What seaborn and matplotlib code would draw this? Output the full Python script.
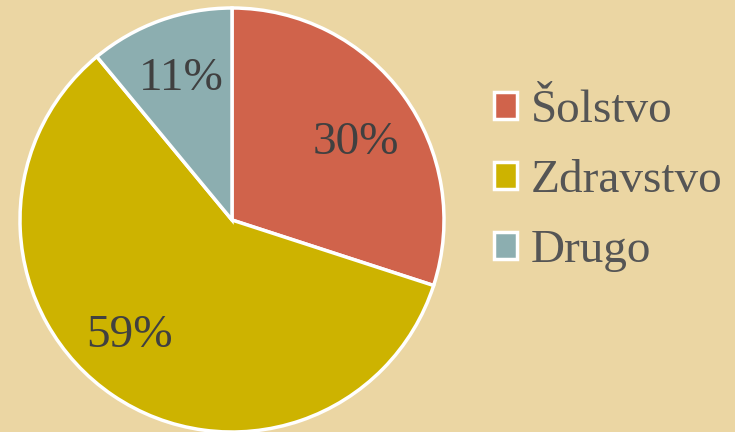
import numpy as np
import pandas as pd
import matplotlib
matplotlib.use("Agg")
import matplotlib.pyplot as plt
import seaborn as sns
from matplotlib.patches import Patch

# data
categories = ["Šolstvo", "Zdravstvo", "Drugo"]
shares = [30, 59, 11]
colors = ["#D0634B", "#CDB300", "#8CAEB0"]
# small nudges of the % labels (best-fit placement in the original)
label_nudge = [(0.01, -0.055), (-0.085, 0.04), (0.0, 0.0)]

sns.set_style("white")
plt.rcParams["font.family"] = ["Liberation Serif", "DejaVu Serif"]

bg = "#EBD6A3"
fig = plt.figure(figsize=(7.35, 4.32), dpi=100, facecolor=bg)

# pie centred at (232, 220) px, radius ~212 px
ax = fig.add_axes([20 / 735, 0 / 432, 424 / 735, 424 / 432])
ax.set_facecolor("none")

wedges, texts, autotexts = ax.pie(
    shares,
    colors=colors,
    startangle=90,
    counterclock=False,
    autopct=lambda p: f"{round(p):d}%",
    pctdistance=0.71,
    wedgeprops=dict(edgecolor="white", linewidth=2.5),
    textprops=dict(fontsize=34, color="#404040"),
)
for t, (dx, dy) in zip(autotexts, label_nudge):
    x, y = t.get_position()
    t.set_position((x + dx, y + dy))

ax.set_xlim(-1.0, 1.0)
ax.set_ylim(-1.0, 1.0)
ax.set_aspect("equal")
ax.axis("off")

handles = [Patch(facecolor=c, edgecolor="white", linewidth=2.5) for c in colors]
leg = fig.legend(
    handles, categories,
    loc="center left",
    bbox_to_anchor=(494 / 735, 1 - 181 / 432),
    frameon=False,
    fontsize=34,
    handlelength=0.48,
    handleheight=0.48,
    handletextpad=0.3,
    labelspacing=0.58,
    borderpad=0,
    borderaxespad=0,
)
for t in leg.get_texts():
    t.set_color("#555555")

fig.savefig("out.png", dpi=100, facecolor=bg)
